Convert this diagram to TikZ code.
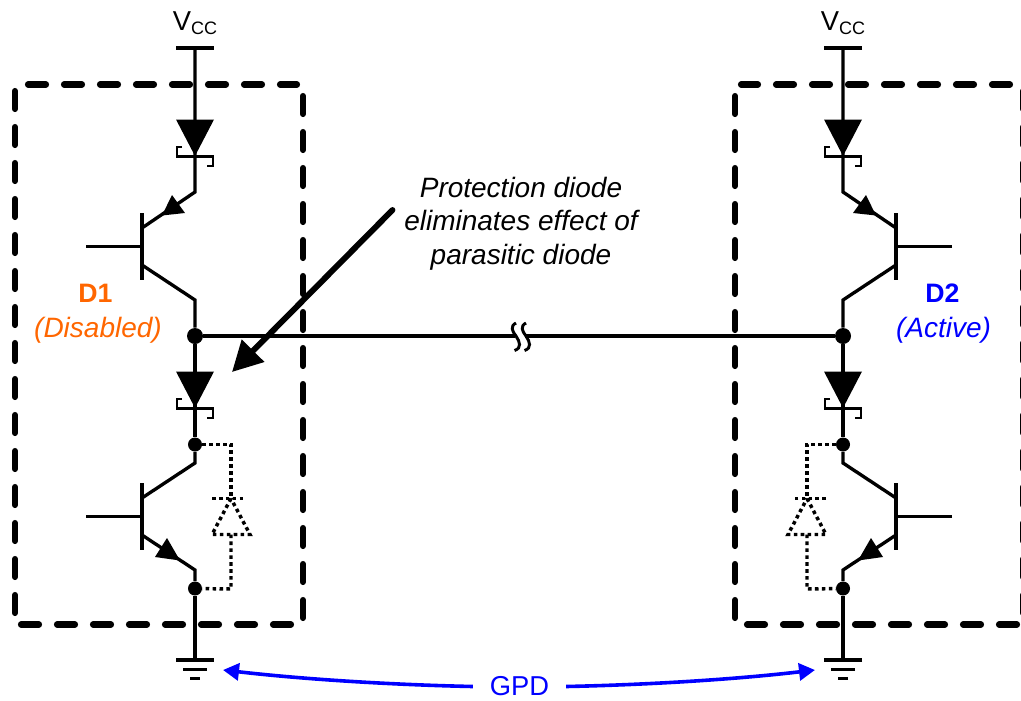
\documentclass[tikz,border=0pt]{standalone}
\usepackage{fontspec}
\setmainfont{Liberation Sans}
\usetikzlibrary{arrows.meta}
\definecolor{dorange}{HTML}{FF6600}
\definecolor{dblue}{HTML}{0000FF}
\tikzset{
  wire/.style={line width=2.5pt,line join=miter},
  boxdash/.style={line width=4.6pt,line cap=round,dash pattern=on 13.5pt off 13.5pt},
  para/.style={line width=2.6pt,dash pattern=on 2.7pt off 2.5pt},
  bigjct/.style={circle,fill=black,inner sep=0pt,minimum size=12pt},
  jct/.style={circle,fill=black,inner sep=0pt,minimum size=10.5pt},
  lab/.style={anchor=base,inner sep=0pt,font=\fontsize{20.5pt}{24pt}\selectfont},
  blueline/.style={draw=dblue,line width=2.7pt,-{Triangle[length=12pt,width=12.75pt,fill=dblue]}}
}
\newcommand{\schottky}[1]{% y of the top of the triangle
  \fill (-19,#1) -- (19,#1) -- (0,#1+36.5) -- cycle;
}
\newcommand{\hooks}[1]{% y of the cathode bar
  \draw[line width=2.1pt] (-13,#1-9.5) -- (-18,#1-9.5) -- (-18,#1) -- (18,#1) -- (18,#1+9.5) -- (12,#1+9.5);
}
\begin{document}
\begin{tikzpicture}[x=0.75pt,y=-0.75pt]
\useasboundingbox (0,0) rectangle (1021,700);
\foreach \n/\cx/\sx in {L/195/1,R/843/-1}{
\begin{scope}[shift={(\cx,0)},xscale=\sx]
  % dashed package outline
  \draw[boxdash] (-167,84.5) -- (102,84.5);
  \draw[boxdash] (-180,91) -- (-180,613);
  \draw[boxdash] (108,96) -- (108,618);
  \draw[boxdash] (-174,624.5) -- (96,624.5);
  % named points of the output stage
  \node[bigjct] (\n-mid) at (0,336) {};
  \node[jct] (\n-lowc) at (0,444.5) {};
  \node[jct] (\n-lowe) at (0,588.5) {};
  \coordinate (\n-vcc) at (0,48);
  \coordinate (\n-gnd) at (0,660);
  % rails
  \draw[wire] (-19,48) -- (19,48);
  \draw[wire] (\n-vcc) -- (0,192) -- (-53,228);
  \draw[wire] (-53,265) -- (0,300) -- (\n-mid);
  \draw[wire] (\n-mid) -- (\n-lowc);
  \draw[wire] (\n-lowc) -- (0,463) -- (-53,498);
  \draw[wire] (-53,535) -- (0,570) -- (\n-lowe);
  \draw[wire] (\n-lowe) -- (\n-gnd);
  % transistors
  \draw[wire] (-53,213) -- (-53,280);
  \draw[wire] (-109,246.5) -- (-53,246.5);
  \draw[wire] (-53,483) -- (-53,550);
  \draw[wire] (-109,516.5) -- (-53,516.5);
  \fill (-33,215.5) -- (-23,195) -- (-10,213) -- cycle;
  \fill (-40,557) -- (-28,538) -- (-15,560.5) -- cycle;
  % Schottky protection diodes
  \schottky{119.5}
  \schottky{371.5}
  \begin{scope}[xscale=\sx]
    \hooks{156.5}
    \hooks{408.5}
  \end{scope}
  % ground
  \draw[wire] (-19,660) -- (19,660);
  \draw[wire] (-12,669.5) -- (12,669.5);
  \draw[wire] (-5,678.5) -- (5,678.5);
  % parasitic diode
  \draw[para] (\n-lowc) -- (36,444.5) -- (36,498);
  \draw[para] (17,498.5) -- (50,498.5);
  \draw[para] (36,498.5) -- (17,534.5) -- (55,534.5) -- cycle;
  \draw[para] (36,534.5) -- (36,589) -- (\n-lowe);
\end{scope}
}
% main line with break mark
\coordinate (brkl) at (515,336);
\coordinate (brkr) at (525,336);
\draw[wire] (L-mid) -- (brkl);
\draw[wire] (brkr) -- (R-mid);
\draw[line width=2.2pt] (516,323) .. controls (510,326) and (512,331) .. (516,336) .. controls (520,342) and (522,348) .. (514.5,350.5);
\draw[line width=2.2pt] (526,323) .. controls (520,326) and (522,331) .. (526,336) .. controls (530,342) and (532,348) .. (524.5,350.5);
% annotation
\node[inner sep=0pt,align=center,font=\fontsize{21pt}{25pt}\selectfont\itshape] (note) at (521,223.5) {Protection diode\\eliminates effect of\\parasitic diode};
\coordinate (notestart) at (392.5,210);
\coordinate (notetip) at (232,372);
\draw[line width=4.4pt,line cap=round,-{Triangle[length=22.5pt,width=22.8pt]}] (notestart) -- (notetip);
% labels
\node[lab] (vcc1) at (L-vcc |- 0,30) {V\raisebox{-3pt}{\fontsize{13.5pt}{15pt}\selectfont CC}};
\node[lab] (vcc2) at (R-vcc |- 0,30) {V\raisebox{-3pt}{\fontsize{13.5pt}{15pt}\selectfont CC}};
\node[lab,text=dorange,font=\fontsize{20pt}{24pt}\selectfont\bfseries] (d1) at (95.5,302) {D1};
\node[lab,text=dorange,font=\fontsize{21pt}{24pt}\selectfont\itshape] (d1s) at (98,337) {(Disabled)};
\node[lab,text=dblue,font=\fontsize{20pt}{24pt}\selectfont\bfseries] (d2) at (942.5,302) {D2};
\node[lab,text=dblue,font=\fontsize{21pt}{24pt}\selectfont\itshape] (d2s) at (943.5,337) {(Active)};
% GPD
\node[text=dblue,inner xsep=12.5pt,inner ysep=0pt,font=\fontsize{20.5pt}{24pt}\selectfont] (gpd) at (519.5,686.5) {GPD};
\coordinate (gl) at (223,670);
\coordinate (gr) at (815,670);
\draw[blueline] (gpd.west) .. controls (400,685) and (310,680) .. (gl);
\draw[blueline] (gpd.east) .. controls (640,685) and (730,680) .. (gr);
\end{tikzpicture}
\end{document}
